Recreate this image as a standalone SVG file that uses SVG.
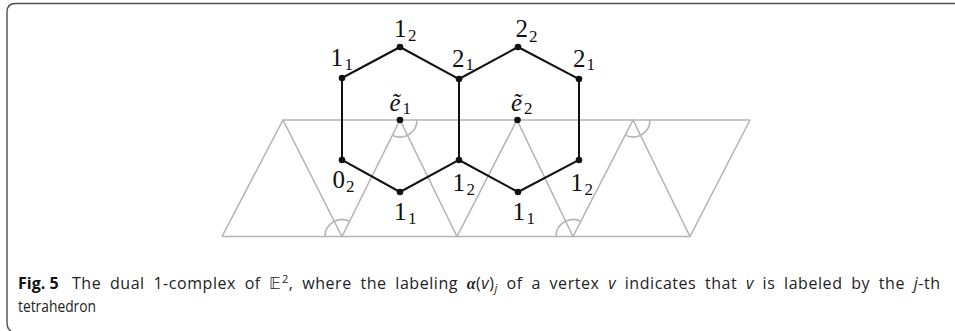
<svg xmlns="http://www.w3.org/2000/svg" width="955" height="331" viewBox="0 0 955 331">
<style>
.frame{fill:none;stroke:#4d4d4d;stroke-width:1.4}
.strip{fill:none;stroke:#b5b5b5;stroke-width:1.6;stroke-linejoin:miter}
.edge{fill:none;stroke:#111;stroke-width:2;stroke-linecap:round}
.dot{fill:#111}
.lbl{font-family:"Liberation Serif","DejaVu Serif",serif;font-size:25px;fill:#111}
.sub{font-size:17px}
.it{font-style:italic}
.cap{font-family:"Open Sans","Liberation Sans",sans-serif;font-size:16px;fill:#222}
.capb{font-weight:bold;fill:#111}
</style>
<rect width="955" height="331" fill="#fff"/>
<path class="frame" d="M955,3.5 H15.5 Q7,3.5 7,12 V322 Q7,329 11,331"/>
<g id="strip">
<path class="strip" d="M283,120 H750 M222,236.5 H690 M222,236.5 L283,120 L342,236.5 L400,120 L457,236.5 L517,120 L573,236.5 L633,120 L690,236.5 L750,120"/>
<path class="strip" d="M417,120 A17,17 0 0 1 392.4,135.2"/>
<path class="strip" d="M650,120 A17,17 0 0 1 625.2,135.1"/>
<path class="strip" d="M325,236.5 A17,17 0 0 1 349.6,221.3"/>
<path class="strip" d="M556,236.5 A17,17 0 0 1 580.8,221.4"/>
</g>
<g id="connectors">
<path class="edge" d="M342,78 L400,47 L459,79 L459,160 L400,192 L342,160 Z"/>
<path class="edge" d="M459,79 L518,47 L579,79 L579,160 L518,192 L459,160"/>
</g>
<g id="n_1_1_top"><circle class="dot" cx="342" cy="78" r="3.3"/><text class="lbl" x="330.5" y="66">1<tspan class="sub" dx="1.5" dy="3.5">1</tspan></text></g>
<g id="n_1_2_top"><circle class="dot" cx="400" cy="47" r="3.3"/><text class="lbl" x="394" y="36.5">1<tspan class="sub" dx="1.5" dy="4.5">2</tspan></text></g>
<g id="n_2_1_mid"><circle class="dot" cx="459" cy="79" r="3.3"/><text class="lbl" x="452" y="66.5">2<tspan class="sub" dx="1" dy="3.5">1</tspan></text></g>
<g id="n_2_2_top"><circle class="dot" cx="518" cy="47" r="3.3"/><text class="lbl" x="515.5" y="37">2<tspan class="sub" dx="1" dy="4.5">2</tspan></text></g>
<g id="n_2_1_right"><circle class="dot" cx="579" cy="79" r="3.3"/><text class="lbl" x="573" y="66.5">2<tspan class="sub" dx="1" dy="3.5">1</tspan></text></g>
<g id="n_e1"><circle class="dot" cx="400" cy="120" r="3.3"/><text class="lbl it" x="389.5" y="110.5">ẽ<tspan class="sub" style="font-style:normal" dx="2" dy="3">1</tspan></text></g>
<g id="n_e2"><circle class="dot" cx="517.5" cy="120" r="3.3"/><text class="lbl it" x="511" y="110.5">ẽ<tspan class="sub" style="font-style:normal" dx="2" dy="3">2</tspan></text></g>
<g id="n_0_2"><circle class="dot" cx="342" cy="160" r="3.3"/><text class="lbl" x="332.5" y="188">0<tspan class="sub" dx="1" dy="4">2</tspan></text></g>
<g id="n_1_1_bot1"><circle class="dot" cx="400" cy="192" r="3.3"/><text class="lbl" x="394" y="220">1<tspan class="sub" dx="1.5" dy="4">1</tspan></text></g>
<g id="n_1_2_mid"><circle class="dot" cx="459" cy="160" r="3.3"/><text class="lbl" x="452.5" y="190.5">1<tspan class="sub" dx="1.5" dy="4">2</tspan></text></g>
<g id="n_1_1_bot2"><circle class="dot" cx="518" cy="192" r="3.3"/><text class="lbl" x="512.5" y="220">1<tspan class="sub" dx="1.5" dy="4">1</tspan></text></g>
<g id="n_1_2_right"><circle class="dot" cx="579" cy="160" r="3.3"/><text class="lbl" x="570.5" y="190.5">1<tspan class="sub" dx="1.5" dy="4">2</tspan></text></g>
<g id="caption">
<text class="cap capb" x="18" y="289">Fig. 5</text>
<text class="cap" x="72" y="289" word-spacing="4" textLength="868" lengthAdjust="spacing">The dual 1-complex of 𝔼<tspan dy="-6" font-size="11">2</tspan><tspan dy="6">, where the labeling </tspan><tspan font-style="italic" font-weight="bold" font-family="Liberation Serif, serif">α</tspan>(<tspan font-style="italic">v</tspan>)<tspan font-style="italic" font-size="11" dy="3">j</tspan><tspan dy="-3"> of a vertex </tspan><tspan font-style="italic">v</tspan> indicates that <tspan font-style="italic">v</tspan> is labeled by the <tspan font-style="italic">j</tspan>-th</text>
<text class="cap" x="18" y="312" textLength="78" lengthAdjust="spacingAndGlyphs">tetrahedron</text>
</g>
</svg>
